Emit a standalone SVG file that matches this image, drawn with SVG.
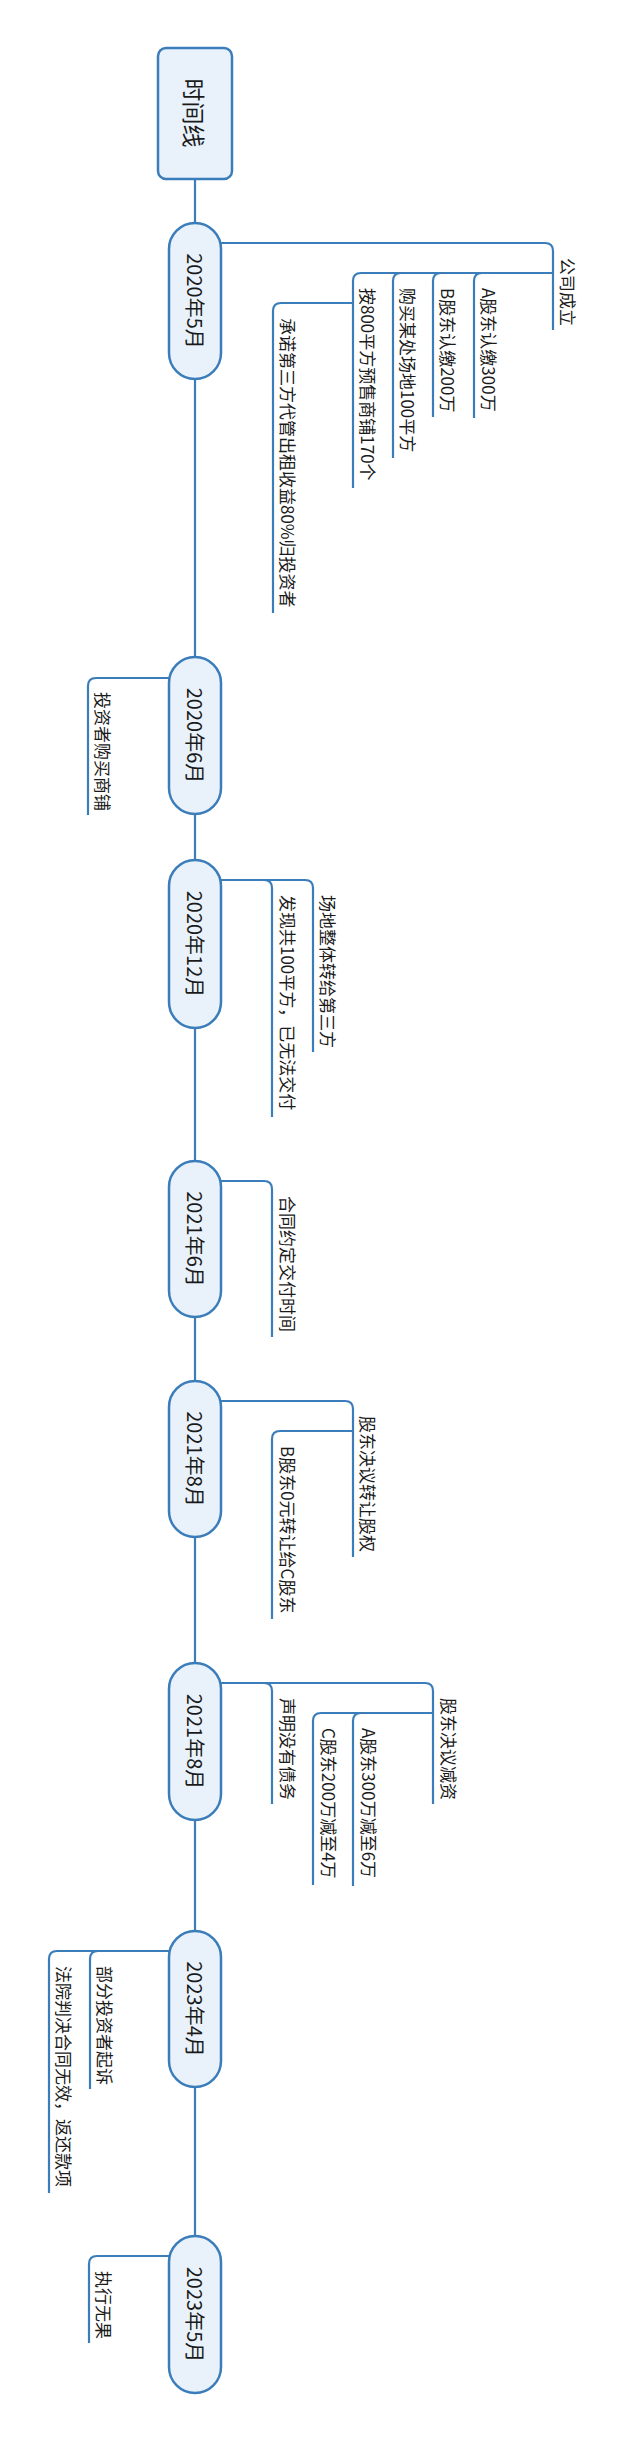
<svg xmlns="http://www.w3.org/2000/svg" width="631" height="2441" viewBox="0 0 631 2441">
  <style>
    .node { fill: #e9f2fb; stroke: #3b7dbb; stroke-width: 2.5; }
    .link { fill: none; stroke: #3b7dbb; stroke-width: 2.2; }
    .t { font-family: "Noto Sans CJK SC", "Liberation Sans", sans-serif; fill: #1a1a1a; dominant-baseline: central; }
    .root-t { font-size: 23px; text-anchor: middle; }
    .date-t { font-size: 20px; text-anchor: middle; }
    .leaf-t { font-size: 17px; text-anchor: start; }
  </style>
  <rect width="631" height="2441" fill="#ffffff"/>

  <!-- connectors -->
  <g id="connectors">
    <path class="link" d="M195,179 V2236"/>
    <!-- 2020年5月 -->
    <path class="link" d="M221,243 H545 Q553,243 553,251 V330"/>
    <path class="link" d="M553,273 H361 Q353,273 353,281 V488"/>
    <path class="link" d="M482,273 Q474,273 474,281 V418"/>
    <path class="link" d="M441,273 Q433,273 433,281 V417"/>
    <path class="link" d="M401,273 Q393,273 393,281 V458"/>
    <path class="link" d="M353,303 H281 Q273,303 273,311 V613"/>
    <!-- 2020年6月 -->
    <path class="link" d="M169,678 H96 Q88,678 88,686 V815"/>
    <!-- 2020年12月 -->
    <path class="link" d="M221,880 H305 Q313,880 313,888 V1052"/>
    <path class="link" d="M264,880 Q272,880 272,888 V1117"/>
    <!-- 2021年6月 -->
    <path class="link" d="M221,1181 H264 Q272,1181 272,1189 V1337"/>
    <!-- 2021年8月 (股权) -->
    <path class="link" d="M221,1401 H345 Q353,1401 353,1409 V1557"/>
    <path class="link" d="M353,1431 H280 Q272,1431 272,1439 V1619"/>
    <!-- 2021年8月 (减资) -->
    <path class="link" d="M221,1683 H425 Q433,1683 433,1691 V1804"/>
    <path class="link" d="M264,1683 Q272,1683 272,1691 V1804"/>
    <path class="link" d="M433,1713 H321 Q313,1713 313,1721 V1885"/>
    <path class="link" d="M361,1713 Q353,1713 353,1721 V1886"/>
    <!-- 2023年4月 -->
    <path class="link" d="M169,1951 H98 Q90,1951 90,1959 V2089"/>
    <path class="link" d="M98,1951 H57 Q49,1951 49,1959 V2193"/>
    <!-- 2023年5月 -->
    <path class="link" d="M169,2256 H97 Q89,2256 89,2264 V2343"/>
  </g>

  <!-- root -->
  <g id="root">
    <rect class="node" x="158" y="48" width="74" height="131" rx="8"/>
    <text class="t root-t" transform="translate(195,113) rotate(90)">时间线</text>
  </g>

  <!-- 2020年5月 -->
  <g id="d2020-05">
    <rect class="node" x="169" y="223" width="52" height="156" rx="26"/>
    <text class="t date-t" transform="translate(195,301) rotate(90)">2020年5月</text>
  </g>
  <g id="n-company"><text class="t leaf-t" transform="translate(568,258) rotate(90)">公司成立</text></g>
  <g id="n-a-sub"><text class="t leaf-t" transform="translate(489,288) rotate(90)">A股东认缴300万</text></g>
  <g id="n-b-sub"><text class="t leaf-t" transform="translate(448,288) rotate(90)">B股东认缴200万</text></g>
  <g id="n-site"><text class="t leaf-t" transform="translate(408,288) rotate(90)">购买某处场地100平方</text></g>
  <g id="n-presale"><text class="t leaf-t" transform="translate(368,288) rotate(90)">按800平方预售商铺170个</text></g>
  <g id="n-promise"><text class="t leaf-t" transform="translate(288,318) rotate(90)">承诺第三方代管出租收益80%归投资者</text></g>

  <!-- 2020年6月 -->
  <g id="d2020-06">
    <rect class="node" x="169" y="657" width="52" height="157" rx="26"/>
    <text class="t date-t" transform="translate(195,735.5) rotate(90)">2020年6月</text>
  </g>
  <g id="n-buy"><text class="t leaf-t" transform="translate(103,692) rotate(90)">投资者购买商铺</text></g>

  <!-- 2020年12月 -->
  <g id="d2020-12">
    <rect class="node" x="169" y="860" width="52" height="168" rx="26"/>
    <text class="t date-t" transform="translate(195,944) rotate(90)">2020年12月</text>
  </g>
  <g id="n-transfer-site"><text class="t leaf-t" transform="translate(328,895) rotate(90)">场地整体转给第三方</text></g>
  <g id="n-found"><text class="t leaf-t" transform="translate(288,895) rotate(90)">发现共100平方，已无法交付</text></g>

  <!-- 2021年6月 -->
  <g id="d2021-06">
    <rect class="node" x="169" y="1161" width="52" height="156" rx="26"/>
    <text class="t date-t" transform="translate(195,1239) rotate(90)">2021年6月</text>
  </g>
  <g id="n-delivery"><text class="t leaf-t" transform="translate(288,1196) rotate(90)">合同约定交付时间</text></g>

  <!-- 2021年8月 equity transfer -->
  <g id="d2021-08a">
    <rect class="node" x="169" y="1381" width="52" height="156" rx="26"/>
    <text class="t date-t" transform="translate(195,1459) rotate(90)">2021年8月</text>
  </g>
  <g id="n-equity"><text class="t leaf-t" transform="translate(368,1416) rotate(90)">股东决议转让股权</text></g>
  <g id="n-b-to-c"><text class="t leaf-t" transform="translate(288,1446) rotate(90)">B股东0元转让给C股东</text></g>

  <!-- 2021年8月 capital reduction -->
  <g id="d2021-08b">
    <rect class="node" x="169" y="1663" width="52" height="157" rx="26"/>
    <text class="t date-t" transform="translate(195,1741.5) rotate(90)">2021年8月</text>
  </g>
  <g id="n-reduce"><text class="t leaf-t" transform="translate(449,1698) rotate(90)">股东决议减资</text></g>
  <g id="n-no-debt"><text class="t leaf-t" transform="translate(288,1698) rotate(90)">声明没有债务</text></g>
  <g id="n-a-reduce"><text class="t leaf-t" transform="translate(369,1728) rotate(90)">A股东300万减至6万</text></g>
  <g id="n-c-reduce"><text class="t leaf-t" transform="translate(329,1728) rotate(90)">C股东200万减至4万</text></g>

  <!-- 2023年4月 -->
  <g id="d2023-04">
    <rect class="node" x="169" y="1931" width="52" height="156" rx="26"/>
    <text class="t date-t" transform="translate(195,2009) rotate(90)">2023年4月</text>
  </g>
  <g id="n-sue"><text class="t leaf-t" transform="translate(105,1966) rotate(90)">部分投资者起诉</text></g>
  <g id="n-court"><text class="t leaf-t" transform="translate(64,1966) rotate(90)">法院判决合同无效，返还款项</text></g>

  <!-- 2023年5月 -->
  <g id="d2023-05">
    <rect class="node" x="169" y="2236" width="52" height="157" rx="26"/>
    <text class="t date-t" transform="translate(195,2314.5) rotate(90)">2023年5月</text>
  </g>
  <g id="n-enforce"><text class="t leaf-t" transform="translate(104,2271) rotate(90)">执行无果</text></g>
</svg>
